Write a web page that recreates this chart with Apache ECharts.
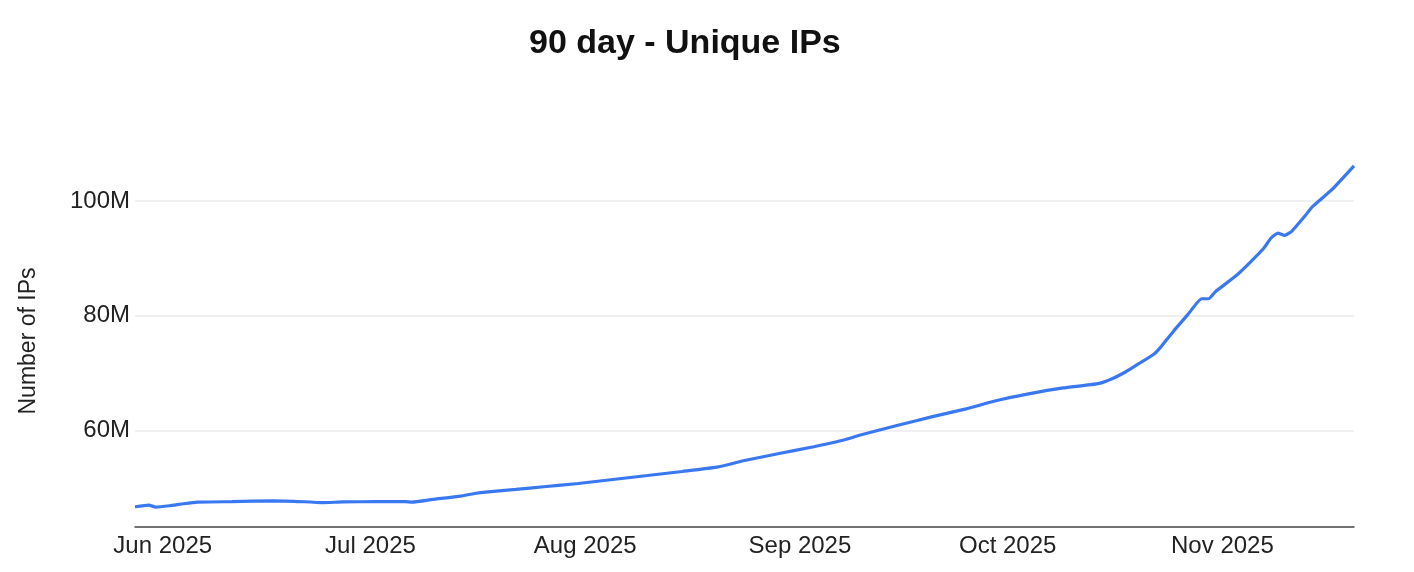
<!DOCTYPE html>
<html>
<head>
<meta charset="utf-8">
<title>90 day - Unique IPs</title>
<script src="https://cdn.jsdelivr.net/npm/echarts@6/dist/echarts.min.js"></script>
<style>
  html, body { margin: 0; padding: 0; background: #fff; }
  #chart { width: 1414px; height: 572px; }
</style>
</head>
<body>
<div id="chart"></div>
<script>
// values, millions of IPs
const dates = [
  "2025-05-28", "2025-05-30", "2025-05-31", "2025-06-02", "2025-06-04", "2025-06-06",
  "2025-06-11", "2025-06-17", "2025-06-20", "2025-06-24", "2025-06-27", "2025-07-02",
  "2025-07-06", "2025-07-07", "2025-07-10", "2025-07-14", "2025-07-16", "2025-07-18",
  "2025-07-22", "2025-07-26", "2025-07-31", "2025-08-05", "2025-08-10", "2025-08-15",
  "2025-08-20", "2025-08-24", "2025-08-29", "2025-09-03", "2025-09-07", "2025-09-10",
  "2025-09-15", "2025-09-20", "2025-09-25", "2025-09-29", "2025-10-04", "2025-10-09",
  "2025-10-14", "2025-10-16", "2025-10-18", "2025-10-20", "2025-10-22", "2025-10-23",
  "2025-10-24", "2025-10-25", "2025-10-27", "2025-10-29", "2025-10-30", "2025-10-31",
  "2025-11-03", "2025-11-05", "2025-11-07", "2025-11-08", "2025-11-09", "2025-11-10",
  "2025-11-11", "2025-11-13", "2025-11-14", "2025-11-17", "2025-11-20"
];
const uniqueIps = [
  46.73, 47.01, 46.66, 46.90, 47.25, 47.53,
  47.62, 47.75, 47.68, 47.45, 47.56, 47.62,
  47.62, 47.53, 48.00, 48.57, 49.04, 49.33,
  49.74, 50.21, 50.78, 51.48, 52.17, 52.87,
  53.62, 54.78, 56.00, 57.17, 58.26, 59.30,
  60.87, 62.38, 63.77, 65.10, 66.38, 67.43,
  68.17, 68.99, 70.20, 71.70, 73.20, 74.40,
  75.90, 77.40, 80.20, 82.96, 82.96, 84.20,
  87.00, 89.30, 91.80, 93.50, 94.40, 94.00,
  94.70, 97.50, 99.00, 102.20, 106.10
];
const yTicks = [60, 80, 100];
const monthNames = ["Jan", "Feb", "Mar", "Apr", "May", "Jun", "Jul", "Aug", "Sep", "Oct", "Nov", "Dec"];

const FONT = "Liberation Sans, Arial, Helvetica, sans-serif";

const chart = echarts.init(document.getElementById("chart"), null, { renderer: "canvas" });
chart.setOption({
  animation: false,
  title: {
    text: "90 day - Unique IPs",
    left: 524,
    top: 22,
    textStyle: { fontFamily: FONT, fontSize: 34, fontWeight: "bold", color: "#111" }
  },
  grid: { left: 135, right: 60, top: 155, bottom: 45, containLabel: false },
  xAxis: {
    type: "time",
    min: "2025-05-28",
    max: "2025-11-20",
    splitNumber: 6,
    minInterval: 28 * 86400000,
    axisLine: { show: true, lineStyle: { color: "#444", width: 1.5 } },
    axisTick: { show: false },
    splitLine: { show: false },
    axisLabel: {
      margin: 7,
      fontFamily: FONT,
      fontSize: 24,
      color: "#222",
      showMinLabel: false,
      showMaxLabel: false,
      hideOverlap: false,
      formatter: value => {
        const d = new Date(value);
        if (d.getDate() !== 1) return "";
        return monthNames[d.getMonth()] + " " + d.getFullYear();
      }
    }
  },
  yAxis: {
    type: "value",
    min: 43.2,
    max: 108,
    splitNumber: 3,
    name: "Number of IPs",
    nameLocation: "middle",
    nameGap: 95,
    nameTextStyle: { fontFamily: FONT, fontSize: 23, color: "#222" },
    axisLine: { show: false },
    axisTick: { show: false },
    splitLine: {
      show: true,
      showMinLine: false,
      showMaxLine: false,
      lineStyle: { color: "#ebebeb", width: 1.5 }
    },
    axisLabel: {
      margin: 5,
      fontFamily: FONT,
      fontSize: 24,
      color: "#222",
      showMinLabel: false,
      showMaxLabel: false,
      formatter: value => (yTicks.includes(value) ? value + "M" : "")
    }
  },
  series: [{
    name: "Unique IPs",
    type: "line",
    data: dates.map((d, i) => [d, uniqueIps[i]]),
    showSymbol: false,
    smooth: 0.15,
    lineStyle: { color: "#3a78f2", width: 3.2 },
    itemStyle: { color: "#3a78f2" }
  }]
});
</script>
</body>
</html>
